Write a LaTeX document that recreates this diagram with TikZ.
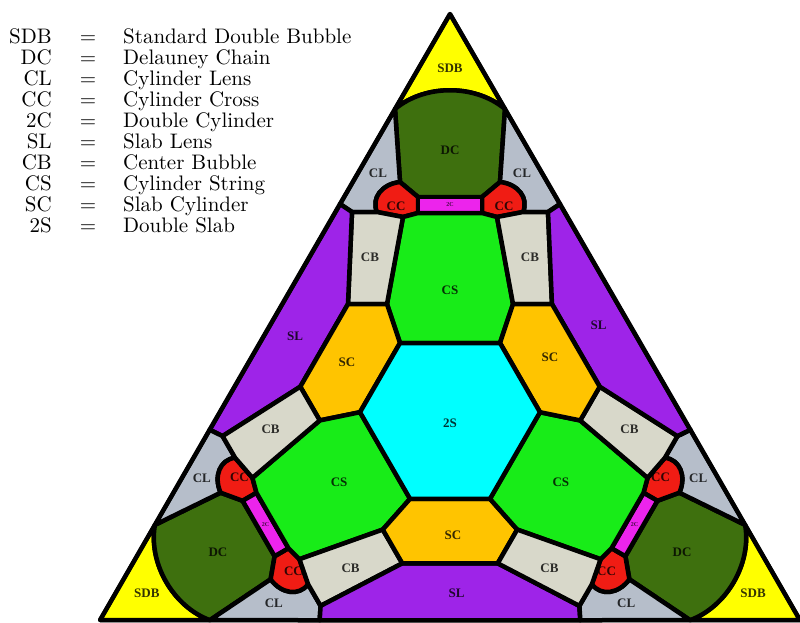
\documentclass[tikz,border=0pt]{standalone}
\usepackage{fontspec}
\newfontfamily\lblfont{Liberation Serif}
\newfontfamily\legfont{lmroman10-regular.otf}
\definecolor{sdbcol}{RGB}{255,255,0}
\definecolor{dccol}{RGB}{62,112,14}
\definecolor{clcol}{RGB}{182,190,202}
\definecolor{cccol}{RGB}{240,28,20}
\definecolor{tccol}{RGB}{236,36,236}
\definecolor{cbcol}{RGB}{216,216,202}
\definecolor{cscol}{RGB}{24,236,24}
\definecolor{sccol}{RGB}{255,196,0}
\definecolor{slcol}{RGB}{158,36,232}
\definecolor{tscol}{RGB}{0,255,255}
\tikzset{
	region/.style={draw=black,line width=4.5pt,line join=round},
	lbl/.style={font=\lblfont\bfseries\fontsize{13}{13}\selectfont,text opacity=0.8,inner sep=0pt},
	tinylbl/.style={font=\lblfont\bfseries\fontsize{6}{6}\selectfont,text opacity=0.7,inner sep=0pt},
	legend/.style={font=\legfont\fontsize{21}{21}\selectfont,inner sep=0pt}
}

\begin{document}
\begin{tikzpicture}[x=1pt,y=-1pt]
	\useasboundingbox (0,0) rectangle (800,622);
	% legend
	\foreach \ab/\txt [count=\i from 0] in {SDB/Standard Double Bubble,DC/Delauney Chain,CL/Cylinder Lens,CC/Cylinder Cross,2C/Double Cylinder,SL/Slab Lens,CB/Center Bubble,CS/Cylinder String,SC/Slab Cylinder,2S/Double Slab}{
		\node[legend,anchor=base east] (ab-\i) at (52,{43+21.1*\i}) {\ab};
		\node[legend,anchor=base] (eq-\i) at (88,{43+21.1*\i}) {=};
		\node[legend,anchor=base west] (txt-\i) at (123,{43+21.1*\i}) {\txt};
	}
	\fill[black] (450,14) -- (100,620) -- (800,620) -- cycle;
	% one corner and one side, three times
	\foreach \a in {0,120,240}{
	\begin{scope}[rotate around={\a:(450,418)}]
		\filldraw[region,fill=sdbcol] (450,14) -- (505,109) .. controls (475,84) and (425,84) .. (395,109) -- cycle;
		\filldraw[region,fill=dccol] (395,109) .. controls (425,84) and (475,84) .. (505,109) -- (500,182) -- (482,197) -- (418,197) -- (400,182) -- cycle;
		\filldraw[region,fill=clcol] (395,109) -- (400,182) .. controls (382,184) and (371,198) .. (377,212) -- (352,212) -- (340,204) -- cycle;
		\filldraw[region,fill=clcol] (505,109) -- (500,182) .. controls (518,184) and (529,198) .. (523,212) -- (548,212) -- (560,204) -- cycle;
		\filldraw[region,fill=cccol] (400,182) .. controls (382,184) and (371,198) .. (377,212) -- (403,217) -- (418,213) -- (418,197) -- cycle;
		\filldraw[region,fill=cccol] (500,182) .. controls (518,184) and (529,198) .. (523,212) -- (497,217) -- (482,213) -- (482,197) -- cycle;
		\filldraw[region,fill=tccol] (418,197) -- (482,197) -- (482,213) -- (418,213) -- cycle;
		\filldraw[region,fill=cscol] (403,217) -- (418,213) -- (482,213) -- (497,217) -- (513,304) -- (500,343) -- (400,343) -- (387,304) -- cycle;
		\filldraw[region,fill=cbcol] (352,212) -- (377,212) -- (403,217) -- (387,304) -- (348,304) -- cycle;
		\filldraw[region,fill=cbcol] (548,212) -- (523,212) -- (497,217) -- (513,304) -- (552,304) -- cycle;
		\filldraw[region,fill=slcol] (340,204) -- (352,212) -- (348,304) -- (300.3,386.7) -- (222.6,436.1) -- (209.7,429.7) -- cycle;
		\filldraw[region,fill=sccol] (348,304) -- (387,304) -- (400,343) -- (360,412.2) -- (319.8,420.4) -- (300.3,386.7) -- cycle;
		\node[lbl] (sdb-\a) at (450,68) {SDB};
		\node[lbl] (dc-\a) at (450,150) {DC};
		\node[lbl] (cla-\a) at (378,173) {CL};
		\node[lbl] (clb-\a) at (522,173) {CL};
		\node[lbl] (cca-\a) at (396,206) {CC};
		\node[lbl] (ccb-\a) at (504,206) {CC};
		\node[tinylbl] (tc-\a) at (450,205) {2C};
		\node[lbl] (cba-\a) at (370,257) {CB};
		\node[lbl] (cbb-\a) at (530,257) {CB};
		\node[lbl] (cs-\a) at (450,290) {CS};
		\node[lbl] (sl-\a) at (295,336) {SL};
		\node[lbl] (sc-\a) at (347,362) {SC};
	\end{scope}
	}
	\filldraw[region,fill=tscol] (400,343) -- (500,343) -- (540,412.2) -- (490,498.8) -- (410,498.8) -- (360,412.2) -- cycle;
	\node[lbl] (ts) at (450,423) {2S};
	\draw[line width=4pt,line join=round] (450,14) -- (100,620) -- (800,620) -- cycle;
\end{tikzpicture}
\end{document}
